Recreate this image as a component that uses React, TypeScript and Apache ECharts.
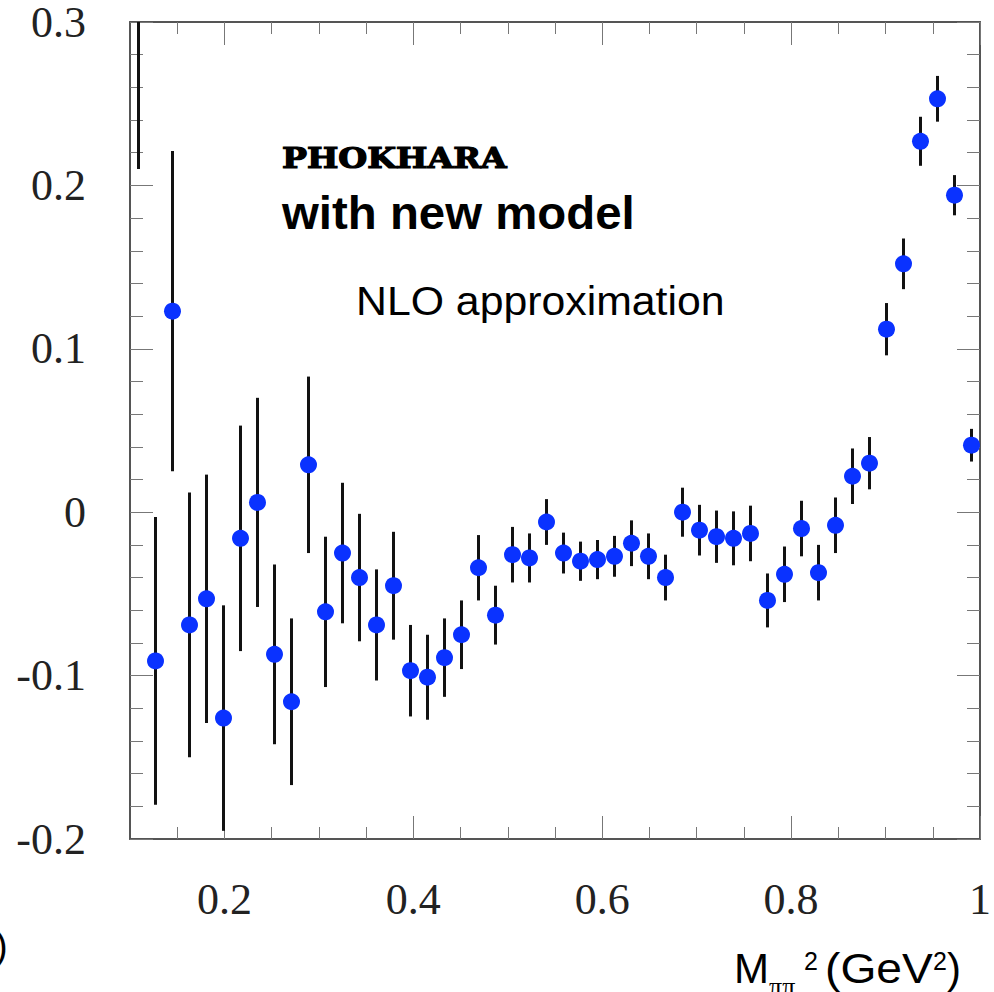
import React, { useEffect, useRef } from "react";
import * as echarts from "echarts";

// Bin centres of M_pipi^2 (GeV^2), 50 bins of width 0.018 between 0.1 and 1.0
const binCenters = [
  0.109, 0.127, 0.145, 0.163, 0.181, 0.199, 0.217, 0.235, 0.253, 0.271,
  0.289, 0.307, 0.325, 0.343, 0.361, 0.379, 0.397, 0.415, 0.433, 0.451,
  0.469, 0.487, 0.505, 0.523, 0.541, 0.559, 0.577, 0.595, 0.613, 0.631,
  0.649, 0.667, 0.685, 0.703, 0.721, 0.739, 0.757, 0.775, 0.793, 0.811,
  0.829, 0.847, 0.865, 0.883, 0.901, 0.919, 0.937, 0.955, 0.973, 0.991,
];

// Central values per bin
const values = [
  0.33, -0.091, 0.123, -0.069, -0.053, -0.126, -0.016, 0.006, -0.087, -0.116,
  0.029, -0.061, -0.025, -0.04, -0.069, -0.045, -0.097, -0.101, -0.089, -0.075,
  -0.034, -0.063, -0.026, -0.028, -0.006, -0.025, -0.03, -0.029, -0.027, -0.019,
  -0.027, -0.04, 0.0, -0.011, -0.015, -0.016, -0.013, -0.054, -0.038, -0.01,
  -0.037, -0.008, 0.022, 0.03, 0.112, 0.152, 0.227, 0.253, 0.194, 0.041,
];

// Symmetric statistical errors per bin
const errors = [
  0.12, 0.088, 0.098, 0.081, 0.076, 0.069, 0.069, 0.064, 0.055, 0.051,
  0.054, 0.046, 0.043, 0.039, 0.034, 0.033, 0.028, 0.026, 0.024, 0.021,
  0.02, 0.018, 0.017, 0.015, 0.014, 0.0125, 0.012, 0.012, 0.0125, 0.014,
  0.014, 0.014, 0.015, 0.0155, 0.016, 0.0165, 0.017, 0.0165, 0.017, 0.017,
  0.017, 0.017, 0.017, 0.016, 0.016, 0.0155, 0.015, 0.014, 0.0123, 0.01,
];

const xMajorTicks = [0.2, 0.4, 0.6, 0.8, 1];
const xMinorTicks = [0.15, 0.25, 0.3, 0.35, 0.45, 0.5, 0.55, 0.65, 0.7, 0.75, 0.85, 0.9, 0.95];

const FRAME = "#555";
const TICK = "#777";
const SERIF = "'Liberation Serif', 'Times New Roman', serif";
const SANS = "'Liberation Sans', Arial, sans-serif";
const SLAB = "'DejaVu Serif', 'Courier New', serif";

const fmtX = (v: number) => (Math.abs(v - 1) < 1e-9 ? "1" : v.toFixed(1));
const fmtY = (v: number) => (Math.abs(v) < 1e-9 ? "0" : v.toFixed(1));

export default function App() {
  const ref = useRef<HTMLDivElement>(null);

  useEffect(() => {
    if (!ref.current) return;
    const chart = echarts.init(ref.current, undefined, { renderer: "svg" });

    const points = binCenters.map((x, i) => [x, values[i]]);
    const bars = binCenters.map((x, i) => [x, values[i] - errors[i], values[i] + errors[i]]);

    const baseX = {
      type: "value" as const,
      min: 0.1,
      max: 1,
      gridIndex: 0,
      splitLine: { show: false },
    };
    const baseY = {
      type: "value" as const,
      min: -0.2,
      max: 0.3,
      interval: 0.1,
      gridIndex: 0,
      splitLine: { show: false },
      minorSplitLine: { show: false },
    };

    chart.setOption({
      animation: false,
      backgroundColor: "#ffffff",
      grid: { left: 130, right: 9, top: 21, bottom: 153, containLabel: false },
      xAxis: [
        {
          ...baseX,
          position: "bottom",
          axisLine: { show: true, onZero: false, lineStyle: { color: FRAME, width: 2 } },
          axisTick: { show: true, inside: true, length: 23, customValues: xMajorTicks, lineStyle: { color: TICK, width: 1 } },
          axisLabel: {
            show: true,
            customValues: xMajorTicks,
            formatter: fmtX,
            margin: 38,
            fontFamily: SERIF,
            fontSize: 44,
            color: "#222",
          },
        },
        {
          ...baseX,
          position: "bottom",
          axisLine: { show: false, onZero: false },
          axisTick: { show: true, inside: true, length: 12, customValues: xMinorTicks, lineStyle: { color: TICK, width: 1 } },
          axisLabel: { show: false },
        },
        {
          ...baseX,
          position: "top",
          axisLine: { show: true, onZero: false, lineStyle: { color: FRAME, width: 2 } },
          axisTick: { show: true, inside: true, length: 23, customValues: xMajorTicks, lineStyle: { color: TICK, width: 1 } },
          axisLabel: { show: false },
        },
        {
          ...baseX,
          position: "top",
          axisLine: { show: false, onZero: false },
          axisTick: { show: true, inside: true, length: 12, customValues: xMinorTicks, lineStyle: { color: TICK, width: 1 } },
          axisLabel: { show: false },
        },
      ],
      yAxis: [
        {
          ...baseY,
          position: "left",
          axisLine: { show: true, onZero: false, lineStyle: { color: FRAME, width: 2 } },
          axisTick: { show: true, inside: true, length: 23, lineStyle: { color: TICK, width: 1 } },
          minorTick: { show: true, splitNumber: 5, length: 13, lineStyle: { color: TICK, width: 1 } },
          axisLabel: {
            show: true,
            formatter: fmtY,
            margin: 44,
            fontFamily: SERIF,
            fontSize: 44,
            color: "#222",
          },
        },
        {
          ...baseY,
          position: "right",
          axisLine: { show: true, onZero: false, lineStyle: { color: FRAME, width: 2 } },
          axisTick: { show: true, inside: true, length: 23, lineStyle: { color: TICK, width: 1 } },
          minorTick: { show: true, splitNumber: 5, length: 13, lineStyle: { color: TICK, width: 1 } },
          axisLabel: { show: false },
        },
      ],
      series: [
        {
          type: "custom",
          name: "errors",
          xAxisIndex: 0,
          yAxisIndex: 0,
          clip: true,
          z: 2,
          data: bars,
          encode: { x: 0, y: [1, 2] },
          renderItem: (_params: any, api: any) => {
            const x = api.value(0);
            const p1 = api.coord([x, api.value(1)]);
            const p2 = api.coord([x, api.value(2)]);
            return {
              type: "line",
              shape: { x1: p1[0], y1: p1[1], x2: p2[0], y2: p2[1] },
              style: { stroke: "#111", lineWidth: 3 },
            };
          },
        },
        {
          type: "scatter",
          name: "values",
          xAxisIndex: 0,
          yAxisIndex: 0,
          clip: true,
          z: 3,
          symbol: "circle",
          symbolSize: 17,
          itemStyle: { color: "#0a32ff", opacity: 1 },
          data: points,
        },
      ],
      graphic: [
        {
          type: "text",
          x: 282,
          y: 158.5,
          scaleX: 1.23,
          style: {
            text: "PHOKHARA",
            font: `bold 27px ${SLAB}`,
            fill: "#000",
            stroke: "#000",
            lineWidth: 1.2,
            align: "left",
            verticalAlign: "middle",
          },
        },
        {
          type: "text",
          x: 282,
          y: 213,
          scaleX: 1.03,
          style: {
            text: "with new model",
            font: `bold 46px ${SANS}`,
            fill: "#000",
            align: "left",
            verticalAlign: "middle",
          },
        },
        {
          type: "text",
          x: 356,
          y: 301,
          scaleX: 1.07,
          style: {
            text: "NLO approximation",
            font: `40px ${SANS}`,
            fill: "#000",
            align: "left",
            verticalAlign: "middle",
          },
        },
        // x-axis title: M_{pi pi}^2 (GeV^2)
        {
          type: "text",
          x: 734,
          y: 968,
          style: { text: "M", font: `42px ${SANS}`, fill: "#000", align: "left", verticalAlign: "middle" },
        },
        {
          type: "text",
          x: 769,
          y: 986,
          style: { text: "ππ", font: `26px ${SERIF}`, fill: "#000", align: "left", verticalAlign: "middle" },
        },
        {
          type: "text",
          x: 804,
          y: 961,
          style: { text: "2", font: `25px ${SANS}`, fill: "#000", align: "left", verticalAlign: "middle" },
        },
        {
          type: "text",
          x: 825,
          y: 968,
          scaleX: 1.1,
          style: { text: "(GeV", font: `42px ${SANS}`, fill: "#000", align: "left", verticalAlign: "middle" },
        },
        {
          type: "text",
          x: 933,
          y: 961,
          style: { text: "2", font: `25px ${SANS}`, fill: "#000", align: "left", verticalAlign: "middle" },
        },
        {
          type: "text",
          x: 947,
          y: 968,
          style: { text: ")", font: `42px ${SANS}`, fill: "#000", align: "left", verticalAlign: "middle" },
        },
        {
          type: "text",
          x: -5,
          y: 946,
          style: { text: ")", font: `38px ${SANS}`, fill: "#000", align: "left", verticalAlign: "middle" },
        },
      ],
    });

    return () => chart.dispose();
  }, []);

  return (
    <div
      ref={ref}
      style={{ position: "fixed", left: 0, top: 0, width: 994, height: 992, background: "#fff" }}
    />
  );
}
